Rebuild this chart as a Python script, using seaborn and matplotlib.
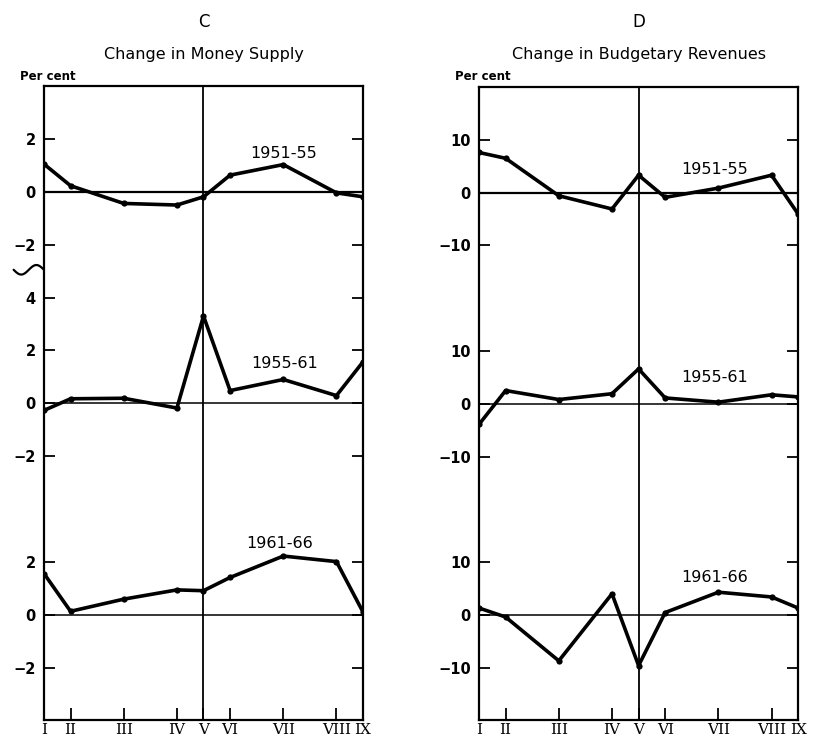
import numpy as np
import pandas as pd
import matplotlib
matplotlib.use("Agg")
import matplotlib.pyplot as plt
import seaborn as sns

sns.set_theme(style="white")
plt.rcParams['font.family'] = ['DejaVu Sans']
plt.rcParams['text.color'] = 'black'
plt.rcParams['xtick.color'] = 'black'
plt.rcParams['ytick.color'] = 'black'
plt.rcParams['axes.labelcolor'] = 'black'

# Data
month_labels = ["I", "II", "III", "IV", "V", "VI", "VII", "VIII", "IX"]
month_pos = [0, 1, 3, 5, 6, 7, 9, 11, 12]
periods = ["1951-55", "1955-61", "1961-66"]

money_1951_55 = [1.05, 0.23, -0.44, -0.5, -0.19, 0.63, 1.03, -0.04, -0.19]
money_1955_61 = [-0.27, 0.17, 0.19, -0.18, 3.3, 0.48, 0.9, 0.29, 1.57]
money_1961_66 = [1.56, 0.13, 0.59, 0.94, 0.91, 1.41, 2.22, 2.01, 0.1]

budget_1951_55 = [7.6, 6.5, -0.6, -3.1, 3.3, -0.9, 0.85, 3.3, -4.05]
budget_1955_61 = [-3.9, 2.5, 0.8, 1.9, 6.6, 1.1, 0.3, 1.7, 1.3]
budget_1961_66 = [1.3, -0.4, -8.7, 4.0, -9.6, 0.45, 4.3, 3.4, 1.3]

panels = [
    dict(letter="C", title="Change in Money Supply", scale=1,
         series=[money_1951_55, money_1955_61, money_1961_66],
         ticks=[[-2, 0, 2], [-2, 0, 2, 4], [-2, 0, 2]],
         label_pos=[(9.0, 1.45), (9.06, 1.5), (8.87, 2.69)],
         rect=[0.054, 0.029, 0.392, 0.855], brk=True),
    dict(letter="D", title="Change in Budgetary Revenues", scale=5,
         series=[budget_1951_55, budget_1955_61, budget_1961_66],
         ticks=[[-10, 0, 10], [-10, 0, 10], [-10, 0, 10]],
         label_pos=[(8.87, 4.3), (8.87, 4.9), (8.87, 7.0)],
         rect=[0.5885, 0.029, 0.392, 0.8537], brk=False),
]

fig = plt.figure(figsize=(8.14, 7.42), dpi=100)

for p in panels:
    ax = fig.add_axes(p["rect"])
    s = p["scale"]
    step = 8 * s
    offsets = [2 * step, step, 0]
    rows = []
    for per, vals, off in zip(periods, p["series"], offsets):
        for m, v in zip(month_pos, vals):
            rows.append(dict(period=per, month=m, value=v + off))
    df = pd.DataFrame(rows)
    sns.lineplot(data=df, x="month", y="value", units="period", estimator=None,
                 color="black", lw=2.6, marker="o", markersize=4.5,
                 markeredgewidth=0, ax=ax, legend=False, zorder=3)
    # zero lines
    for i, off in enumerate(offsets):
        ax.axhline(off, color="black", lw=1.6 if i == 0 else 1.1, zorder=2)
    ax.axvline(6, color="black", lw=1.3, zorder=2)
    ax.set_xlim(0, 12)
    ax.set_ylim(-4 * s, 20 * s)
    yt, yl = [], []
    for tks, off in zip(p["ticks"], offsets):
        for t in tks:
            yt.append(t + off)
            yl.append("\u2212" + str(abs(t)) if t < 0 else str(t))
    ax.set_yticks(yt)
    ax.set_yticklabels(yl, fontsize=10.5, fontweight="bold")
    ax.set_xticks(month_pos)
    ax.set_xticklabels(month_labels, fontsize=11, family="DejaVu Serif")
    ax.tick_params(axis="y", direction="in", length=8, width=1.3,
                   left=True, right=True, pad=6)
    ax.tick_params(axis="x", direction="in", length=9, width=1.3,
                   bottom=True, top=False, pad=2)
    for sp in ax.spines.values():
        sp.set_visible(True)
        sp.set_color("black")
        sp.set_linewidth(1.6)
    ax.set_xlabel("")
    ax.set_ylabel("")
    for per, (lx, ly), off in zip(periods, p["label_pos"], offsets):
        ax.text(lx, ly + off, per, ha="center", va="center", fontsize=11.5)
    # titles
    cx = p["rect"][0] + p["rect"][2] / 2
    fig.text(cx, 1 - 22 / 742, p["letter"], ha="center", va="center", fontsize=12)
    fig.text(cx, 1 - 55 / 742, p["title"], ha="center", va="center", fontsize=11.5)
    fig.text(p["rect"][0] - 0.03, 1 - 76 / 742, "Per cent", ha="left",
             va="center", fontsize=8.5, fontweight="bold")
    if p["brk"]:
        t = np.linspace(0, 1, 60)
        xs = -0.095 + 0.095 * t
        ys = 13.05 * s + 0.18 * np.sin(2 * np.pi * t + np.pi)
        ax.plot(xs, ys, color="black", lw=1.6, clip_on=False,
                transform=ax.get_yaxis_transform())

fig.savefig("out.png", dpi=100)
